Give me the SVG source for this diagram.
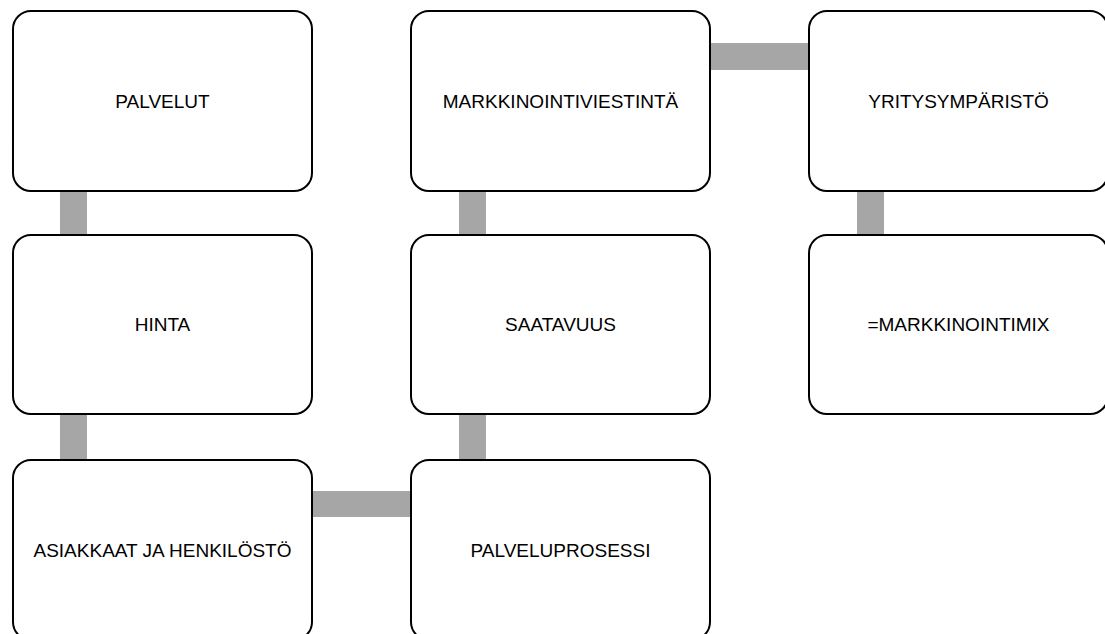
<svg xmlns="http://www.w3.org/2000/svg" width="1105" height="634" viewBox="0 0 1105 634">
<style>
.box{fill:#fff;stroke:#000;stroke-width:2}
.lbl{font-family:"Liberation Sans",Arial,sans-serif;font-size:19px;fill:#000;text-anchor:middle}
.con{fill:#a6a6a6}
</style>
<rect width="1105" height="634" fill="#fff"/>
<g id="connectors">
<rect class="con" x="60" y="190" width="27" height="46"/>
<rect class="con" x="60" y="414" width="27" height="46"/>
<rect class="con" x="312" y="491" width="99" height="26"/>
<rect class="con" x="459" y="414" width="27" height="46"/>
<rect class="con" x="459" y="190" width="27" height="46"/>
<rect class="con" x="711" y="43" width="98" height="27"/>
<rect class="con" x="857" y="190" width="27" height="46"/>
</g>
<g id="palvelut"><rect class="box" x="13" y="11" width="299" height="180" rx="18"/><text class="lbl" x="162.5" y="108">PALVELUT</text></g>
<g id="hinta"><rect class="box" x="13" y="235" width="299" height="179" rx="18"/><text class="lbl" x="162.5" y="331">HINTA</text></g>
<g id="asiakkaat"><rect class="box" x="13" y="460" width="299" height="180" rx="18"/><text class="lbl" x="162.5" y="557">ASIAKKAAT JA HENKILÖSTÖ</text></g>
<g id="palveluprosessi"><rect class="box" x="411" y="460" width="299" height="180" rx="18"/><text class="lbl" x="560.5" y="557">PALVELUPROSESSI</text></g>
<g id="saatavuus"><rect class="box" x="411" y="235" width="299" height="179" rx="18"/><text class="lbl" x="560.5" y="331">SAATAVUUS</text></g>
<g id="markkinointiviestinta"><rect class="box" x="411" y="11" width="299" height="180" rx="18"/><text class="lbl" x="560.5" y="108">MARKKINOINTIVIESTINTÄ</text></g>
<g id="yritysymparisto"><rect class="box" x="809" y="11" width="299" height="180" rx="18"/><text class="lbl" x="958.5" y="108">YRITYSYMPÄRISTÖ</text></g>
<g id="markkinointimix"><rect class="box" x="809" y="235" width="299" height="179" rx="18"/><text class="lbl" x="958.5" y="331">=MARKKINOINTIMIX</text></g>
</svg>
